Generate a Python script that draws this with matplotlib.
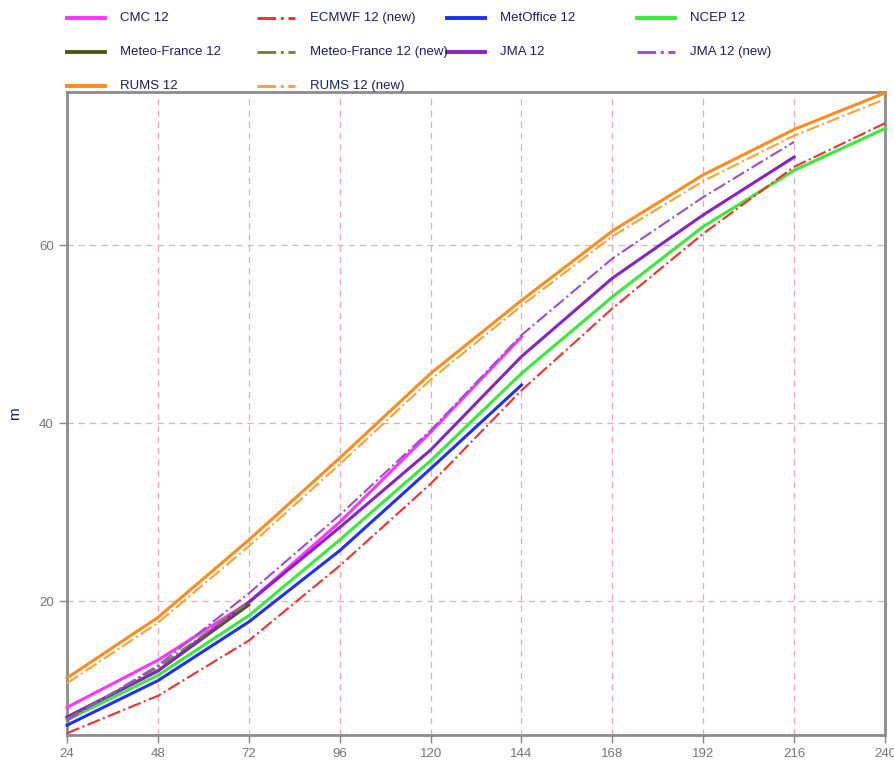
import matplotlib
matplotlib.use("Agg")
import matplotlib.pyplot as plt
from matplotlib.lines import Line2D

plt.rcParams["font.family"] = ["Liberation Sans", "DejaVu Sans"]

# forecast lead time (hours)
hours = [24, 48, 72, 96, 120, 144, 168, 192, 216, 240]

cmc_12 = [8.1, 13.4, 19.9, 28.9, 39.0, 49.7]
ecmwf_12_new = [5.2, 9.4, 15.6, 24.0, 33.2, 43.7, 52.9, 61.3, 68.8, 73.7]
metoffice_12 = [6.1, 11.1, 17.7, 25.7, 34.9, 44.3]
ncep_12 = [6.7, 11.7, 18.4, 26.9, 35.8, 45.6, 54.2, 62.1, 68.4, 73.1]
meteofrance_12 = [7.0, 12.2, 19.6]
meteofrance_12_new = [6.8, 12.6, 19.9]
jma_12 = [7.0, 12.2, 19.9, 28.3, 37.0, 47.5, 56.3, 63.4, 69.9]
jma_12_new = [6.6, 12.8, 20.9, 29.7, 39.2, 49.9, 58.5, 65.4, 71.6]
rums_12 = [11.4, 18.2, 26.9, 36.1, 45.6, 53.8, 61.6, 67.9, 73.0, 77.1]
rums_12_new = [10.8, 17.6, 26.2, 35.4, 44.9, 53.2, 61.0, 67.2, 72.3, 76.4]

# (label, values, color, style, width) in legend order (row by row)
series = [
    ("CMC 12", cmc_12, "#ff33ff", "-", 2.2),
    ("ECMWF 12 (new)", ecmwf_12_new, "#ff2a2a", "-.", 1.5),
    ("MetOffice 12", metoffice_12, "#1f2eff", "-", 2.2),
    ("NCEP 12", ncep_12, "#33ee33", "-", 2.2),
    ("Meteo-France 12", meteofrance_12, "#4b5a12", "-", 2.2),
    ("Meteo-France 12 (new)", meteofrance_12_new, "#6f8a2a", "-.", 1.5),
    ("JMA 12", jma_12, "#8a22c8", "-", 2.2),
    ("JMA 12 (new)", jma_12_new, "#9a4ddc", "-.", 1.5),
    ("RUMS 12", rums_12, "#ff8c1a", "-", 2.2),
    ("RUMS 12 (new)", rums_12_new, "#ffa030", "-.", 1.5),
]

fig = plt.figure(figsize=(8.95, 7.64), dpi=100)
ax = fig.add_axes([0.0749, 0.038, 0.914, 0.8416])

# thin dash-dot lines sit on top of the solid ones
for label, vals, color, style, lw in series:
    ax.plot(hours[:len(vals)], vals, color=color, linestyle=style,
            linewidth=lw, zorder=3 if style == "-" else 4, clip_on=False)

ax.set_xlim(24, 240)
ax.set_ylim(5, 77.2)
ax.set_xticks(hours)
ax.set_yticks([20, 40, 60])
ax.grid(True, color="#f4a6b4", linestyle=(0, (5, 4)), linewidth=0.9)
ax.tick_params(colors="#888888", labelcolor="#777777", labelsize=9.5,
               length=6, width=1, direction="out")
for s in ax.spines.values():
    s.set_color("#8c8c8c")
    s.set_linewidth(2)
ax.set_ylabel("m", color="#1c1c6e", fontsize=11, labelpad=12)

# legend, laid out on a fixed grid like the original
W, H = 895, 764
for i, (label, vals, color, style, lw) in enumerate(series):
    row, col = divmod(i, 4)
    x0 = 67 + col * 190
    y = 18 + row * 34
    fig.add_artist(Line2D([x0 / W, (x0 + 38) / W], [1 - y / H, 1 - y / H],
                          color=color, linestyle=style, linewidth=lw + 0.6))
    fig.text((x0 + 53) / W, 1 - y / H, label, color="#1c1c6e",
             fontsize=9.5, va="center", ha="left")

fig.savefig("out.png", dpi=100)
